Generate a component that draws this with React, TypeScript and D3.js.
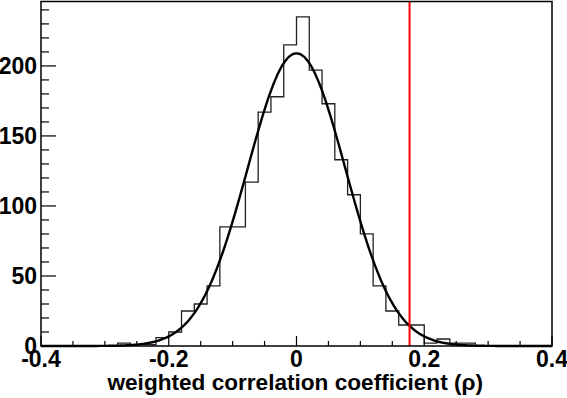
import * as d3 from "d3";

// histogram: 40 bins of width 0.02 from -0.4 to 0.4
const histMin = -0.4;
const binWidth = 0.02;
const binCounts = [
  0, 0, 0, 0, 0, 0, 2, 1, 1, 6,
  10, 25, 30, 43, 85, 85, 117, 167, 178, 215,
  235, 197, 173, 133, 108, 80, 43, 25, 15, 15,
  2, 5, 2, 2, 0, 0, 0, 0, 0, 0,
];

// gaussian fit parameters
const fitConstant = 209;
const fitMean = 0.0;
const fitSigma = 0.0765;

const cutValue = 0.177;

const xTicks = [-0.4, -0.2, 0, 0.2, 0.4];
const xTickLabels = ["-0.4", "-0.2", "0", "0.2", "0.4"];
const yTicks = [0, 50, 100, 150, 200];

const W = 567;
const H = 398;
const margin = { top: 1.5, right: 15, bottom: 52, left: 41 };
const font = "'Liberation Sans', Arial, Helvetica, sans-serif";

export default function App() {
  const x = d3.scaleLinear().domain([-0.4, 0.4]).range([margin.left, W - margin.right]);
  const y = d3.scaleLinear().domain([0, 246]).range([H - margin.bottom, margin.top]);

  const steps: [number, number][] = binCounts.map((c, i) => [histMin + i * binWidth, c]);
  steps.push([histMin + binCounts.length * binWidth, binCounts[binCounts.length - 1]]);
  const histPath = d3
    .line<[number, number]>()
    .x((d) => x(d[0]))
    .y((d) => y(d[1]))
    .curve(d3.curveStepAfter)(steps);

  const fitX = d3.range(-0.4, 0.4001, 0.002);
  const fitPath = d3
    .line<number>()
    .x((d) => x(d))
    .y((d) => y(fitConstant * Math.exp(-0.5 * ((d - fitMean) / fitSigma) ** 2)))
    .curve(d3.curveBasis)(fitX);

  const x0 = x.range()[0];
  const x1 = x.range()[1];
  const y0 = y.range()[0];
  const y1 = y.range()[1];

  const xMinor = d3.range(-0.4, 0.4001, 0.05);
  const yMinor = d3.range(0, 241, 10);

  return (
    <svg
      width={W}
      height={H}
      style={{ position: "absolute", left: 0, top: 0, background: "#fff" }}
      fontFamily={font}
      fontWeight="bold"
    >
      {/* histogram */}
      <path d={histPath ?? ""} fill="none" stroke="#222" strokeWidth={1.3} />
      {/* fit */}
      <path d={fitPath ?? ""} fill="none" stroke="#000" strokeWidth={2.4} />
      {/* cut line */}
      <line x1={x(cutValue)} x2={x(cutValue)} y1={y1} y2={y0} stroke="#ff0000" strokeWidth={2} />

      {/* frame */}
      <rect x={x0} y={y1} width={x1 - x0} height={y0 - y1} fill="none" stroke="#000" strokeWidth={1.5} />

      {/* y ticks */}
      {yMinor.map((v) => (
        <line key={"ym" + v} x1={x0} x2={x0 + (v % 50 === 0 ? 15 : 8)} y1={y(v)} y2={y(v)} stroke="#000" strokeWidth={1.2} />
      ))}
      {yTicks.map((v) => (
        <text key={"yl" + v} x={x0 - 4} y={y(v)} dy="0.36em" textAnchor="end" fontSize={23}>
          {v}
        </text>
      ))}

      {/* x ticks */}
      {xMinor.map((v, i) => (
        <line key={"xm" + i} x1={x(v)} x2={x(v)} y1={y0} y2={y0 - (i % 4 === 0 ? 10 : 5)} stroke="#000" strokeWidth={1.2} />
      ))}
      {xTicks.map((v, i) => (
        <text key={"xl" + i} x={x(v)} y={367} textAnchor="middle" fontSize={23}>
          {xTickLabels[i]}
        </text>
      ))}

      <text x={483} y={390} textAnchor="end" fontSize={22.6}>
        weighted correlation coefficient (ρ)
      </text>
    </svg>
  );
}
